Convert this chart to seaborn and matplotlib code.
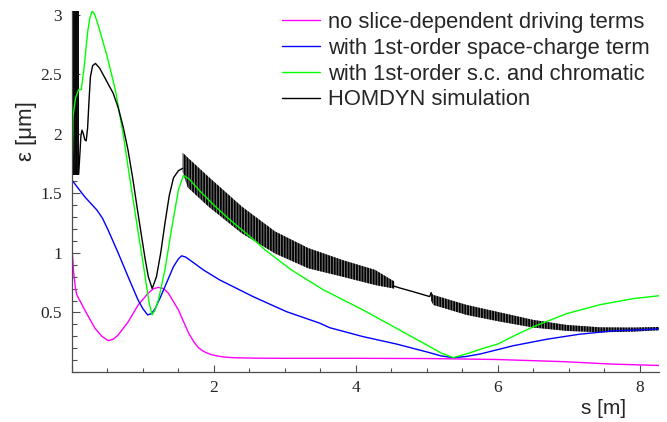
import pandas as pd
import matplotlib
matplotlib.use("Agg")
import matplotlib.pyplot as plt
import seaborn as sns
from matplotlib.ticker import MultipleLocator, FuncFormatter

# values (s in m, emittance in um)
mag_s = [0, 0.005, 0.02, 0.045, 0.066, 0.18, 0.32, 0.42, 0.51, 0.58, 0.65, 0.79, 0.93, 1.07, 1.15,
         1.22, 1.29, 1.36, 1.50, 1.64, 1.72, 1.78, 1.84, 1.90, 1.97, 2.04, 2.15, 2.27, 2.6, 3.0, 4.0, 5.0, 5.4,
         5.98, 6.5, 6.92, 7.62, 8.27]
mag_v = [1.10, 1.0, 0.85, 0.72, 0.65, 0.52, 0.37, 0.30, 0.263, 0.275, 0.31, 0.42, 0.56, 0.66, 0.70,
         0.71, 0.70, 0.66, 0.52, 0.33, 0.25, 0.205, 0.178, 0.16, 0.145, 0.135, 0.125, 0.12, 0.116, 0.115, 0.115, 0.113, 0.11,
         0.105, 0.095, 0.087, 0.066, 0.055]

blue_s = [0, 0.18, 0.35, 0.43, 0.51, 0.65, 0.79, 0.93, 1.0, 1.066, 1.12, 1.17, 1.24, 1.31, 1.43, 1.50,
          1.545, 1.60, 1.69, 1.85, 2.08, 2.55, 3.02, 3.49, 3.63, 4.10, 4.57, 5.04, 5.2, 5.37, 5.55, 5.75,
          6.22, 6.69, 7.15, 7.62, 8.27]
blue_v = [1.61, 1.47, 1.36, 1.29, 1.19, 1.0, 0.80, 0.605, 0.53, 0.479, 0.49, 0.53, 0.62, 0.717, 0.885, 0.95,
          0.975, 0.965, 0.927, 0.857, 0.773, 0.633, 0.507, 0.41, 0.372, 0.297, 0.235, 0.162, 0.135, 0.12, 0.13, 0.151,
          0.221, 0.275, 0.317, 0.345, 0.361]

green_s = [0, 0.015, 0.05, 0.094, 0.13, 0.17, 0.22, 0.25, 0.285, 0.32, 0.37, 0.49, 0.61, 0.72, 0.79,
           0.86, 0.93, 1.0, 1.05, 1.09, 1.13, 1.17, 1.215, 1.26, 1.31, 1.40, 1.50, 1.57, 1.65, 1.8, 2.0,
           2.2, 2.4, 2.6, 2.72, 3.09, 3.54, 4.10, 4.57, 5.04, 5.2, 5.37, 5.6, 5.8, 6.0, 6.25, 6.5, 6.97,
           7.44, 7.91, 8.27]
green_v = [1.60, 2.15, 2.30, 2.37, 2.37, 2.55, 2.85, 2.97, 3.03, 3.0, 2.91, 2.66, 2.37, 2.0, 1.72,
           1.45, 1.18, 0.92, 0.72, 0.57, 0.48, 0.52, 0.60, 0.72, 0.86, 1.19, 1.53, 1.65, 1.62, 1.52, 1.40,
           1.29, 1.19, 1.09, 1.025, 0.857, 0.69, 0.521, 0.367, 0.213, 0.16, 0.12, 0.16, 0.2, 0.235, 0.31, 0.38, 0.49,
           0.565, 0.616, 0.64]

# HOMDYN: smooth stretches
black_s1 = [0.094, 0.113, 0.125, 0.14, 0.16, 0.18, 0.2, 0.22, 0.24, 0.26, 0.29, 0.33, 0.39, 0.48, 0.58,
            0.65, 0.72, 0.79, 0.86, 0.92, 0.98, 1.03, 1.075, 1.13, 1.19, 1.25, 1.31, 1.37, 1.43, 1.50, 1.56]
black_v1 = [1.66, 1.85, 1.98, 2.03, 2.0, 1.95, 1.94, 2.05, 2.28, 2.48, 2.57, 2.59, 2.55, 2.45, 2.34,
            2.22, 2.06, 1.86, 1.61, 1.37, 1.14, 0.95, 0.80, 0.70, 0.80, 1.0, 1.25, 1.48, 1.63, 1.69, 1.71]
black_s2 = [4.54, 4.62, 4.8, 5.04, 5.06]
black_v2 = [0.72, 0.705, 0.675, 0.633, 0.667]

# HOMDYN: fast oscillating stretches, given as envelopes
spike_s = [0.01, 0.094]
spike_lo = [1.65, 1.65]
spike_hi = [3.1, 3.1]

band1_s = [1.56, 1.63, 1.92, 2.39, 2.86, 3.33, 3.81, 4.27, 4.54]
band1_hi = [1.84, 1.80, 1.64, 1.39, 1.18, 1.04, 0.94, 0.857, 0.76]
band1_lo = [1.68, 1.55, 1.39, 1.165, 0.995, 0.87, 0.80, 0.73, 0.70]

band2_s = [5.06, 5.09, 5.56, 6.03, 6.50, 6.97, 7.44, 7.91, 8.27]
band2_hi = [0.667, 0.647, 0.563, 0.50, 0.437, 0.395, 0.375, 0.373, 0.378]
band2_lo = [0.60, 0.563, 0.479, 0.423, 0.373, 0.345, 0.333, 0.339, 0.35]

labels = ["no slice-dependent driving terms", "with 1st-order space-charge term",
          "with 1st-order s.c. and chromatic", "HOMDYN simulation"]
colors = ["#ff00ff", "#0000ff", "#00ff00", "black"]

sns.set_theme(style="ticks")
plt.rcParams['font.family'] = ['Liberation Sans', 'DejaVu Sans']
plt.rcParams['hatch.linewidth'] = 1.3

fig = plt.figure(figsize=(6.67, 4.22), dpi=100)
ax = fig.add_axes([72/667, 50/422, 587/667, 361/422])

lw = 1.0
sns.lineplot(x=mag_s, y=mag_v, color=colors[0], lw=lw, ax=ax, label=labels[0], estimator=None, sort=False)
sns.lineplot(x=blue_s, y=blue_v, color=colors[1], lw=lw, ax=ax, label=labels[1], estimator=None, sort=False)
sns.lineplot(x=green_s, y=green_v, color=colors[2], lw=lw, ax=ax, label=labels[2], estimator=None, sort=False)
sns.lineplot(x=black_s1, y=black_v1, color=colors[3], lw=lw, ax=ax, label=labels[3], estimator=None, sort=False)
sns.lineplot(x=black_s2, y=black_v2, color=colors[3], lw=lw, ax=ax, estimator=None, sort=False)

# first burst right after the gun: nearly solid
ax.fill_between(spike_s, spike_lo, spike_hi, facecolor="0.1", edgecolor="black", hatch="||||||", linewidth=0)
for s, lo, hi in [(band1_s, band1_lo, band1_hi), (band2_s, band2_lo, band2_hi)]:
    ax.fill_between(s, lo, hi, facecolor="0.5", edgecolor="black", hatch="||||||", linewidth=0)

ax.set_xlim(0, 8.27)
ax.set_ylim(0, 3.03)

sns.despine(ax=ax)
for sp in ["left", "bottom"]:
    ax.spines[sp].set_color("0.3")
    ax.spines[sp].set_linewidth(0.9)

ax.xaxis.set_major_locator(MultipleLocator(2))
ax.xaxis.set_minor_locator(MultipleLocator(0.5))
ax.yaxis.set_major_locator(MultipleLocator(0.5))
ax.yaxis.set_minor_locator(MultipleLocator(0.1))
ax.xaxis.set_major_formatter(FuncFormatter(lambda v, _: "" if v == 0 else f"{v:g}"))
ax.yaxis.set_major_formatter(FuncFormatter(lambda v, _: "" if v == 0 else f"{v:g}"))
ax.tick_params(axis="x", which="major", direction="in", length=5, width=0.8, color="0.3", pad=6)
ax.tick_params(axis="x", which="minor", direction="in", length=3, width=0.8, color="0.3")
ax.tick_params(axis="y", which="major", direction="in", length=6, width=0.8, color="0.3", pad=7)
ax.tick_params(axis="y", which="minor", direction="in", length=3.5, width=0.8, color="0.3")
for t in ax.get_xticklabels() + ax.get_yticklabels():
    t.set_fontfamily("Liberation Serif")
    t.set_fontsize(12.5)
    t.set_color("0.15")

ax.set_xlabel("s [m]", fontsize=15)
ax.set_ylabel("ε [μm]", fontsize=16)
ax.xaxis.set_label_coords(0.905, -0.10)
ax.yaxis.set_label_coords(-0.078, 0.667)
ax.xaxis.label.set_va("center")
ax.yaxis.label.set_va("center")

ax.legend(loc="upper left", bbox_to_anchor=(282/667, 1 - 12/422), bbox_transform=fig.transFigure,
          frameon=False, fontsize=15.8, handlelength=1.72, handletextpad=0.37, labelspacing=0.22,
          borderpad=0, borderaxespad=0)

fig.savefig("out.png", dpi=100)
